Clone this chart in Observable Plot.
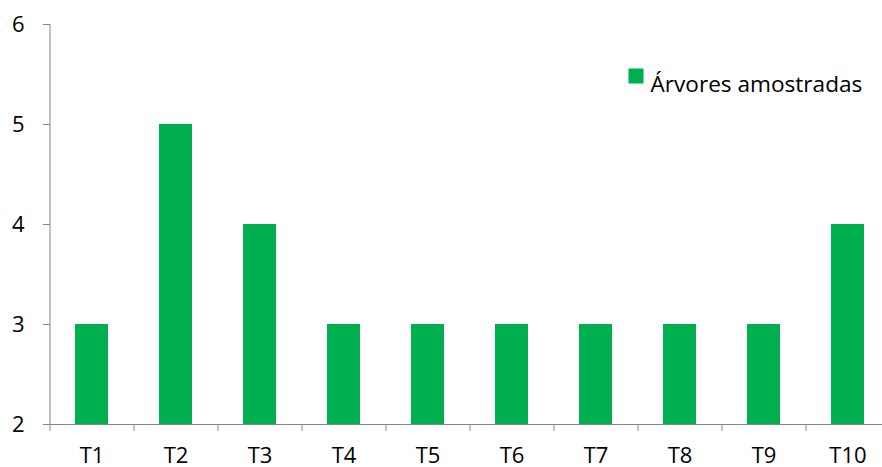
<!DOCTYPE html>
<html>
<head>
<meta charset="utf-8">
<script src="https://cdn.jsdelivr.net/npm/d3@7"></script>
<script src="https://cdn.jsdelivr.net/npm/@observablehq/plot@0.6"></script>
<style>
  html, body { margin: 0; padding: 0; background: #fff; }
</style>
</head>
<body>
<div id="chart"></div>
<script>
// Número de árvores amostradas por tratamento
const categories = ["T1", "T2", "T3", "T4", "T5", "T6", "T7", "T8", "T9", "T10"];
const arvores = [3, 5, 4, 3, 3, 3, 3, 3, 3, 4];
const yTicks = [2, 3, 4, 5, 6];
const seriesName = "Árvores amostradas";

const data = categories.map((c, i) => ({trat: c, n: arvores[i]}));

const green = "#00B050";
const axisGray = "#868686";

const chart = Plot.plot({
  width: 882,
  height: 467,
  marginLeft: 50,
  marginRight: 0,
  marginTop: 24,
  marginBottom: 43,
  style: {fontFamily: "'Open Sans', sans-serif", fontSize: "22px", color: "#000", background: "#fff"},
  x: {domain: categories, range: [50, 890], paddingInner: 0.607, paddingOuter: 0.3035, align: 0.5, axis: null},
  y: {domain: [2, 6], axis: null},
  marks: [
    Plot.barY(data, {x: "trat", y1: 2, y2: "n", fill: green}),
    // linha do eixo Y
    Plot.ruleX(categories.slice(0, 1), {x: d => d, dx: -42, y1: 2, y2: 6, stroke: axisGray}),
    // marcas de divisão entre categorias no eixo X
    Plot.ruleX(categories, {x: d => d, dx: -42, y1: 2, y2: 2, insetBottom: -7, stroke: axisGray}),
    // linha do eixo X
    Plot.ruleY([2], {stroke: axisGray, insetLeft: -7}),
    Plot.axisY(yTicks, {tickSize: 7, tickPadding: 19, stroke: axisGray, fill: "#000", tickFormat: "d", label: null}),
    Plot.axisX({tickSize: 0, tickPadding: 23, fill: "#000", label: null}),
    // legenda
    Plot.dot([seriesName], {frameAnchor: "top-left", dx: 585.5, dy: 51.5, symbol: "square", r: 8.5, fill: green, stroke: null}),
    Plot.text([seriesName], {frameAnchor: "top-left", dx: 600, dy: 51.5, text: d => d, textAnchor: "start", fill: "#000", fontSize: 22.6})
  ]
});

document.getElementById("chart").append(chart);
</script>
</body>
</html>
